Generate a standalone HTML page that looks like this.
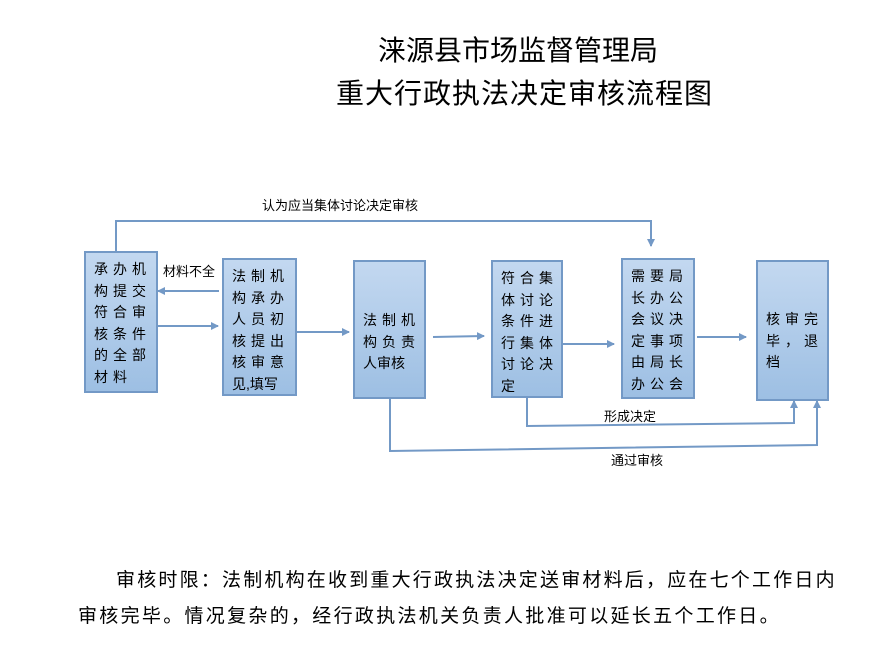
<!DOCTYPE html>
<html><head><meta charset="utf-8"><style>
body{margin:0;width:886px;height:658px;background:#fff;position:relative;overflow:hidden;font-family:"Liberation Sans","Noto Sans CJK SC",sans-serif;color:#000}
.t{position:absolute;white-space:nowrap}
.box{position:absolute;box-sizing:border-box;border:2px solid #7399c6;background:linear-gradient(#c3d8f0,#9dbfe3);font-size:14px;line-height:21.5px;letter-spacing:5px;padding:6px 0 0 8px;white-space:nowrap}
.lbl{position:absolute;font-size:13px;white-space:nowrap}
</style></head><body>
<div class="t" style="left:378px;top:29px;font-size:28px">涞源县市场监督管理局</div>
<div class="t" style="left:336px;top:72px;font-size:28px;letter-spacing:1px">重大行政执法决定审核流程图</div>

<svg width="886" height="658" style="position:absolute;left:0;top:0">
<defs><marker id="a" markerWidth="8" markerHeight="8" refX="7" refY="4" orient="auto" markerUnits="userSpaceOnUse"><path d="M0,0 L8,4 L0,8 z" fill="#7399c6"/></marker></defs>
<g stroke="#7399c6" stroke-width="2" fill="none">
<polyline points="116,251 116,221 651,221 651,246" marker-end="url(#a)"/>
<line x1="219" y1="291" x2="158" y2="291" marker-end="url(#a)"/>
<line x1="158" y1="326" x2="218" y2="326" marker-end="url(#a)"/>
<line x1="297" y1="332" x2="349" y2="332" marker-end="url(#a)"/>
<line x1="433" y1="337" x2="484" y2="336" marker-end="url(#a)"/>
<line x1="563" y1="344" x2="614" y2="344" marker-end="url(#a)"/>
<line x1="697" y1="337" x2="746" y2="337" marker-end="url(#a)"/>
<polyline points="527,397 527,426 794,423 794,401" marker-end="url(#a)"/>
<polyline points="390,398 390,451 817,445 817,401" marker-end="url(#a)"/>
</g></svg>

<div class="box" style="left:84px;top:251px;width:74px;height:142px">承办机<br>构提交<br>符合审<br>核条件<br>的全部<br>材料</div>
<div class="box" style="left:222px;top:258px;width:75px;height:138px">法制机<br>构承办<br>人员初<br>核提出<br>核审意<br><span style="letter-spacing:0">见,填写</span></div>
<div class="box" style="left:353px;top:260px;width:73px;height:139px;padding-top:48px">法制机<br>构负责<br><span style="letter-spacing:0">人审核</span></div>
<div class="box" style="left:491px;top:260px;width:72px;height:138px">符合集<br>体讨论<br>条件进<br>行集体<br>讨论决<br>定</div>
<div class="box" style="left:621px;top:258px;width:74px;height:141px">需要局<br>长办公<br>会议决<br>定事项<br>由局长<br>办公会</div>
<div class="box" style="left:756px;top:260px;width:73px;height:141px;padding-top:47px">核审完<br>毕，退<br>档</div>

<div class="lbl" style="left:262px;top:195px">认为应当集体讨论决定审核</div>
<div class="lbl" style="left:163px;top:261px">材料不全</div>
<div class="lbl" style="left:604px;top:406px">形成决定</div>
<div class="lbl" style="left:611px;top:450px">通过审核</div>

<div class="t" style="left:116px;top:565px;font-size:19px;letter-spacing:2.2px">审核时限：法制机构在收到重大行政执法决定送审材料后，应在七个工作日内</div>
<div class="t" style="left:78px;top:601px;font-size:19px;letter-spacing:2.3px">审核完毕。情况复杂的，经行政执法机关负责人批准可以延长五个工作日。</div>
</body></html>
